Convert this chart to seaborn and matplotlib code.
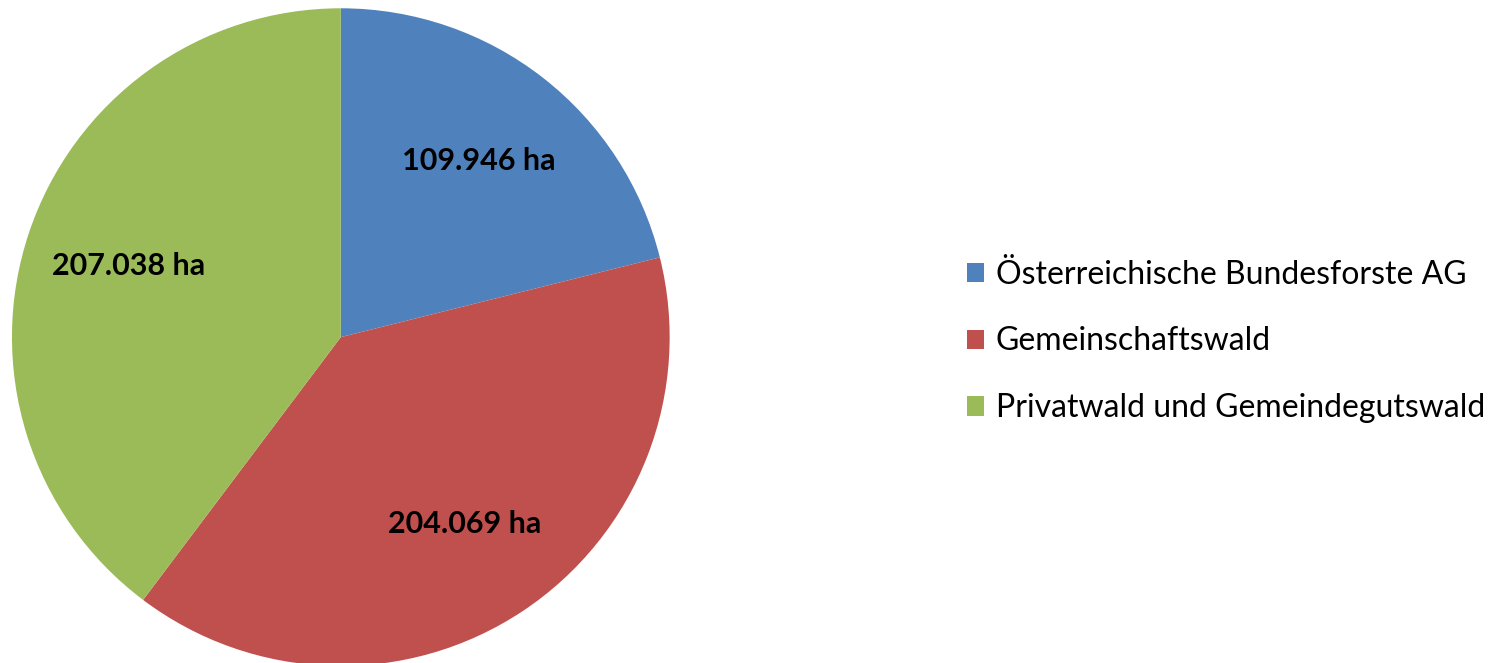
import matplotlib
matplotlib.use("Agg")
import matplotlib.pyplot as plt
import seaborn as sns

categories = ["Österreichische Bundesforste AG", "Gemeinschaftswald",
              "Privatwald und Gemeindegutswald"]
areas_ha = [109946, 204069, 207038]
value_labels = ["109.946 ha", "204.069 ha", "207.038 ha"]

sns.set_theme(style="white")
plt.rcParams['font.family'] = ['Lato', 'DejaVu Sans']
colors = ["#4F81BD", "#C0504D", "#9BBB59"]

fig = plt.figure(figsize=(15.12, 6.63), dpi=100)
ax = fig.add_axes([0.0079, -0.0045, 0.435, 0.992])

wedges, texts = ax.pie(areas_ha, labels=value_labels, colors=colors,
                       startangle=90, counterclock=False, labeldistance=0.68,
                       wedgeprops=dict(linewidth=0))
for t in texts:
    t.set_ha("center")
    t.set_va("center")
    t.set_fontsize(22)
    t.set_fontweight("bold")
    t.set_color("black")
ax.set_xlim(-1, 1)
ax.set_ylim(-1, 1)
ax.set_aspect("equal")

leg = fig.legend(wedges, categories, loc="center left",
                 bbox_to_anchor=(0.631, 0.485), frameon=False, fontsize=23,
                 handlelength=0.55, handleheight=0.55, handletextpad=0.35,
                 labelspacing=1.15, borderaxespad=0)
for t in leg.get_texts():
    t.set_color("black")

fig.savefig("out.png", dpi=100)
